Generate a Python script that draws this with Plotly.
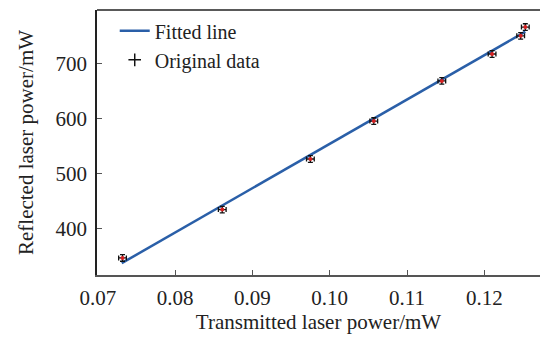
import plotly.graph_objects as go

# Data
transmitted = [0.0732, 0.0861, 0.0975, 0.1057, 0.1145, 0.1210, 0.1247, 0.1253]
reflected = [347, 435, 527, 596, 669, 718, 751, 767]
x_err = [0.0005] * 8
y_err = [6] * 8

fit_slope = 8065.0
fit_intercept = -252.0
fit_x = [0.0731, 0.1253]
fit_y = [fit_slope * v + fit_intercept for v in fit_x]

x_ticks = [0.07, 0.08, 0.09, 0.10, 0.11, 0.12]
x_ticktext = ["0.07", "0.08", "0.09", "0.10", "0.11", "0.12"]
y_ticks = [400, 500, 600, 700]

FONT = "Liberation Serif, Times New Roman, serif"
FS = 21

fig = go.Figure()
fig.add_trace(go.Scatter(
    x=fit_x, y=fit_y, mode="lines", name="Fitted line",
    line=dict(color="#2a5fa8", width=2.5)))
fig.add_trace(go.Scatter(
    x=transmitted, y=reflected, mode="markers", name="Original data",
    showlegend=False, cliponaxis=False,
    marker=dict(color="#d62020", size=4),
    error_x=dict(type="data", array=x_err, color="#111", thickness=1.3, width=2.5),
    error_y=dict(type="data", array=y_err, color="#111", thickness=1.3, width=2.5)))
# legend-only entry mimicking the error-bar cross symbol
fig.add_trace(go.Scatter(
    x=[None], y=[None], mode="markers", name="Original data",
    marker=dict(symbol="cross-thin", size=9, color="#111",
                line=dict(color="#111", width=1.5))))

fig.update_layout(
    width=540, height=338,
    margin=dict(l=97, r=0, t=10, b=63),
    paper_bgcolor="white", plot_bgcolor="white",
    font=dict(family=FONT, size=FS, color="#222"),
    showlegend=True,
    legend=dict(x=0.04, y=0.995, xanchor="left", yanchor="top",
                bgcolor="rgba(0,0,0,0)", font=dict(family=FONT, size=20, color="#222"),
                itemwidth=30, tracegroupgap=0),
)
fig.update_xaxes(
    range=[0.0699, 0.1272], tickvals=x_ticks, ticktext=x_ticktext,
    ticks="inside", ticklen=5, tickcolor="#555", tickwidth=1.3,
    showline=True, linecolor="#555", linewidth=1.5, mirror=False,
    showgrid=False, zeroline=False, automargin=False,
    ticklabelstandoff=3,
    title=dict(text="Transmitted laser power/mW", standoff=4, font=dict(family=FONT, size=FS)),
    tickfont=dict(family=FONT, size=FS),
)
fig.update_yaxes(
    range=[316, 798], tickvals=y_ticks,
    ticks="inside", ticklen=5, tickcolor="#555", tickwidth=1.3,
    showline=True, linecolor="#222", linewidth=1.5,
    showgrid=False, zeroline=False, automargin=False,
    ticklabelstandoff=4,
    title=dict(text="Reflected laser power/mW", standoff=16, font=dict(family=FONT, size=FS)),
    tickfont=dict(family=FONT, size=FS),
)
# top border line
fig.add_shape(type="line", xref="paper", yref="paper", x0=0, x1=1, y0=1, y1=1,
              line=dict(color="#222", width=1.5))

fig.write_html("out.html", config={"displayModeBar": False},
               post_script="document.body.style.margin='0';")
